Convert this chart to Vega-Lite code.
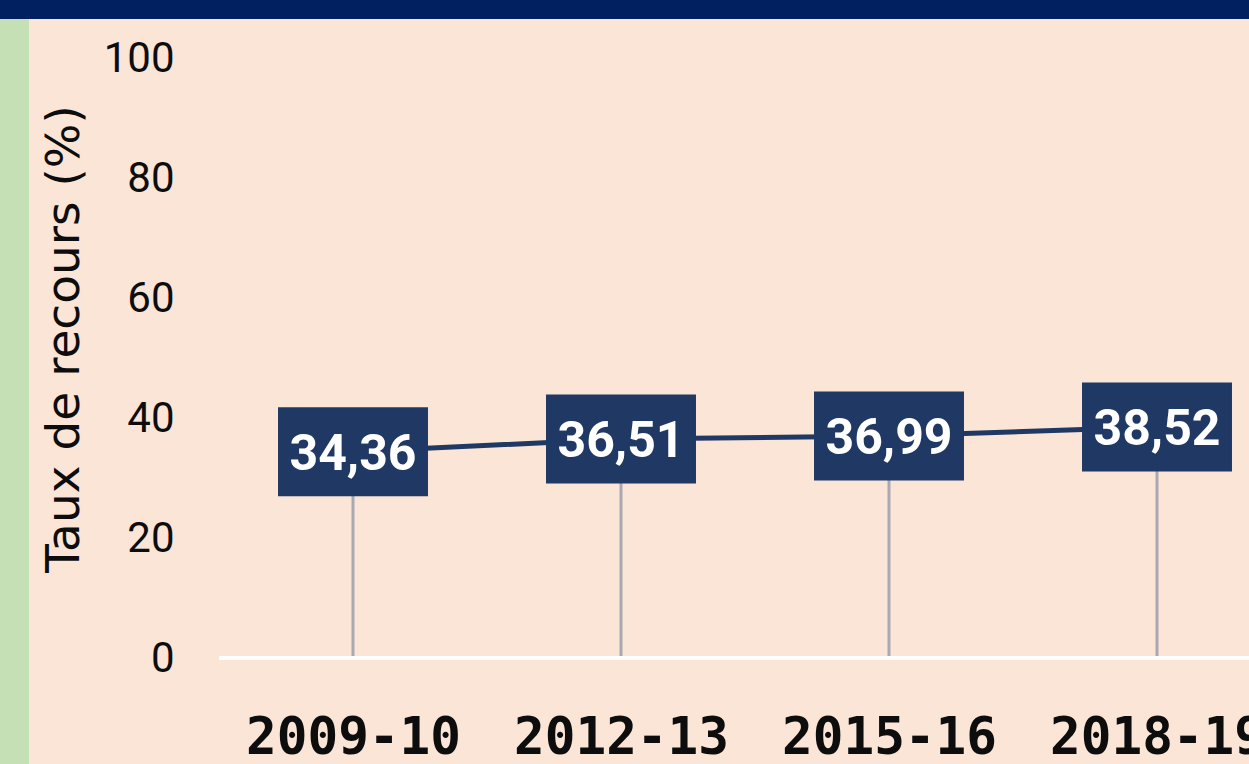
{
  "$schema": "https://vega.github.io/schema/vega-lite/v6.json",
  "background": "#FBE5D6",
  "padding": 0,
  "spacing": 0,
  "config": {
    "view": {"stroke": null},
    "concat": {"spacing": 0},
    "locale": {"number": {"decimal": ",", "thousands": "\u00a0", "grouping": [3], "currency": ["", "\u00a0€"]}}
  },
  "datasets": {
    "taux": [
      {"periode": "2009-10", "taux": 34.36},
      {"periode": "2012-13", "taux": 36.51},
      {"periode": "2015-16", "taux": 36.99},
      {"periode": "2018-19", "taux": 38.52}
    ]
  },
  "vconcat": [
    {
      "width": 1249,
      "height": 19,
      "view": {"fill": "#002060", "stroke": null},
      "data": {"name": "taux"},
      "mark": {"type": "point", "opacity": 0},
      "encoding": {}
    },
    {
      "spacing": 11,
      "hconcat": [
        {
          "width": 29,
          "height": 745,
          "view": {"fill": "#C5E0B4", "stroke": null},
          "data": {"name": "taux"},
          "mark": {"type": "point", "opacity": 0},
          "encoding": {}
        },
        {
          "width": 1031,
          "height": 639,
          "data": {"name": "taux"},
          "layer": [
            {
              "mark": {"type": "rule", "color": "#A9A8B3", "strokeWidth": 3},
              "encoding": {
                "x": {
                  "field": "periode",
                  "type": "ordinal",
                  "sort": null,
                  "scale": {"type": "point", "range": [134, 938], "padding": 0},
                  "axis": {
                    "title": null,
                    "labelAngle": 0,
                    "labelFont": "DejaVu Sans Mono",
                    "labelFontWeight": "bold",
                    "labelFontSize": 51,
                    "labelColor": "#0d0d0d",
                    "labelPadding": 55,
                    "labelLimit": 0,
                    "labelOverlap": false,
                    "ticks": false,
                    "tickSize": 0,
                    "domain": false,
                    "grid": false
                  }
                },
                "y": {
                  "field": "taux",
                  "type": "quantitative",
                  "scale": {"domain": [0, 106.5], "nice": false, "zero": true},
                  "axis": {
                    "title": "Taux de recours (%)",
                    "titleFont": "DejaVu Sans",
                    "titleFontSize": 47,
                    "titleFontWeight": "normal",
                    "titleColor": "#0d0d0d",
                    "titlePadding": 15,
                    "values": [0, 20, 40, 60, 80, 100],
                    "format": "d",
                    "labelFont": "Roboto",
                    "labelFontSize": 42,
                    "labelColor": "#0d0d0d",
                    "labelPadding": 45,
                    "ticks": false,
                    "tickSize": 0,
                    "domain": false,
                    "grid": false
                  }
                },
                "y2": {"datum": 0}
              }
            },
            {
              "mark": {"type": "rule", "color": "#FFFFFF", "strokeWidth": 4},
              "encoding": {"y": {"datum": 0, "type": "quantitative"}}
            },
            {
              "mark": {"type": "line", "color": "#203864", "strokeWidth": 5},
              "encoding": {
                "x": {"field": "periode", "type": "ordinal", "sort": null},
                "y": {"field": "taux", "type": "quantitative"}
              }
            },
            {
              "mark": {
                "type": "point",
                "shape": "M-1.685,-1H1.685V1H-1.685Z",
                "size": 7921,
                "filled": true,
                "opacity": 1,
                "color": "#203864",
                "strokeWidth": 0
              },
              "encoding": {
                "x": {"field": "periode", "type": "ordinal", "sort": null},
                "y": {"field": "taux", "type": "quantitative"}
              }
            },
            {
              "mark": {
                "type": "text",
                "font": "Roboto",
                "fontWeight": "bold",
                "fontSize": 50,
                "color": "#FFFFFF",
                "align": "center",
                "baseline": "middle",
                "dy": 3
              },
              "encoding": {
                "x": {"field": "periode", "type": "ordinal", "sort": null},
                "y": {"field": "taux", "type": "quantitative"},
                "text": {"field": "taux", "type": "quantitative", "format": ".2f"}
              }
            }
          ]
        }
      ]
    }
  ]
}
